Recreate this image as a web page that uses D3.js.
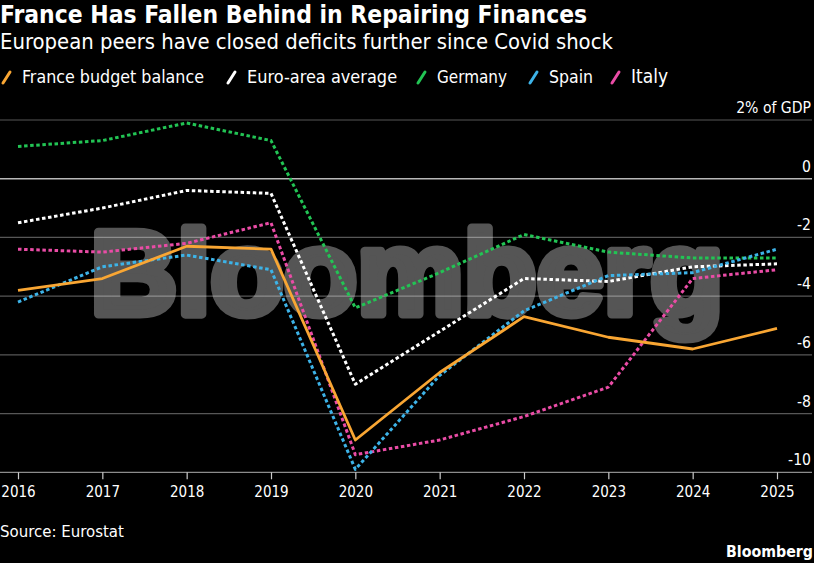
<!DOCTYPE html>
<html><head><meta charset="utf-8">
<script src="https://cdn.jsdelivr.net/npm/d3@7"></script>
<style>
html,body{margin:0;padding:0;background:#000;}
svg{display:block;}
</style></head>
<body>
<svg id="chart" width="814" height="563"></svg>
<script>
const years = [2016,2017,2018,2019,2020,2021,2022,2023,2024,2025];
const france  = [-3.8,-3.4,-2.3,-2.4,-8.9,-6.6,-4.7,-5.4,-5.8,-5.1];
const euroArea= [-1.5,-1.0,-0.4,-0.5,-7.0,-5.2,-3.4,-3.5,-3.0,-2.9];
const germany = [1.1,1.3,1.9,1.3,-4.4,-3.2,-1.9,-2.5,-2.7,-2.7];
const spain   = [-4.2,-3.0,-2.6,-3.1,-9.9,-6.7,-4.5,-3.3,-3.2,-2.4];
const italy   = [-2.4,-2.5,-2.2,-1.5,-9.4,-8.9,-8.1,-7.1,-3.4,-3.1];
const yTicks  = [2,0,-2,-4,-6,-8,-10];
const yTickLabels = ["2% of GDP","0","-2","-4","-6","-8","-10"];
const seriesNames = ["France budget balance","Euro-area average","Germany","Spain","Italy"];
const seriesColors = ["#f9a633","#ffffff","#22c454","#3db3e8","#ea4ca6"];

const seriesData = [france, euroArea, germany, spain, italy];
const FONT = "'DejaVu Sans Condensed','Liberation Sans Narrow','Roboto Condensed',sans-serif";

const svg = d3.select("#chart");
const x = d3.scaleLinear().domain([2016,2025]).range([18,777]);
const y = d3.scaleLinear().domain([2,-10]).range([120,472.3]);

function fitText(sel, target){
  const n = sel.node();
  let fs = parseFloat(sel.attr("font-size"));
  for(let i=0;i<4;i++){
    const w = n.getComputedTextLength();
    if(w>0){ fs = fs*target/w; sel.attr("font-size", fs); }
  }
}

// Title
const t = svg.append("text").attr("x",0).attr("y",23).attr("fill","#fff")
  .attr("font-family",FONT).attr("font-weight","bold").attr("font-size",22)
  .text("France Has Fallen Behind in Repairing Finances");
fitText(t,587);
const st = svg.append("text").attr("x",0).attr("y",49).attr("fill","#fff")
  .attr("font-family",FONT).attr("font-size",19)
  .text("European peers have closed deficits further since Covid shock");
fitText(st,613);

// Legend
const legendX = [3,228,418,530,612];
const legendTextW = [182,150,70,44,37];
seriesNames.forEach((name,i)=>{
  svg.append("line").attr("x1",legendX[i]).attr("y1",83).attr("x2",legendX[i]+7).attr("y2",72)
    .attr("stroke",seriesColors[i]).attr("stroke-width",3).attr("stroke-linecap","round");
  const lt = svg.append("text").attr("x",legendX[i]+19).attr("y",83).attr("fill","#fff")
    .attr("font-family",FONT).attr("font-size",16).text(name);
  fitText(lt, legendTextW[i]);
});

// Watermark (behind grid and lines)
svg.append("text").attr("x",90.5).attr("y",313.5).attr("fill","#555").attr("stroke","#555")
  .attr("stroke-width",9).attr("stroke-linejoin","round")
  .attr("font-family","'Liberation Sans',Arial,sans-serif").attr("font-weight","bold")
  .attr("font-size",119).attr("textLength",633).attr("lengthAdjust","spacingAndGlyphs")
  .text("Bloomberg");

// Gridlines
const grid = svg.append("g");
yTicks.forEach((v,i)=>{
  grid.append("line").attr("x1",0).attr("x2",812).attr("y1",y(v)).attr("y2",y(v))
    .attr("stroke","#fff")
    .attr("stroke-opacity", v===0 ? 0.72 : (v===-10 ? 0.55 : 0.34))
    .attr("stroke-width", v===0 ? 1.5 : 1.2);
  grid.append("text").attr("x",811).attr("y",y(v)-7).attr("text-anchor","end")
    .attr("fill","#fff").attr("font-family",FONT).attr("font-size",15.6)
    .text(yTickLabels[i]);
});

// X axis
const xAxis = d3.axisBottom(x).tickValues(years).tickFormat(d3.format("d")).tickSize(7).tickPadding(7);
const gx = svg.append("g").attr("transform",`translate(0,${y(-10)})`).call(xAxis);
gx.select(".domain").remove();
gx.selectAll(".tick line").attr("stroke","#ccc").attr("stroke-width",1.2);
gx.selectAll(".tick text").attr("fill","#fff").attr("font-family",FONT).attr("font-size",15);

// Lines (dotted first, France on top)
const line = d3.line().x((d,i)=>x(years[i])).y(d=>y(d));
const order = [2,1,4,3,0];
order.forEach(i=>{
  svg.append("path").datum(seriesData[i]).attr("d",line).attr("fill","none")
    .attr("stroke",seriesColors[i]).attr("stroke-width",i===0?2.8:3)
    .attr("stroke-dasharray", i===0 ? null : "3.5,2.6")
    .attr("stroke-linejoin","round");
});

// Footer
const src = svg.append("text").attr("x",0).attr("y",537).attr("fill","#fff")
  .attr("font-family",FONT).attr("font-size",15).text("Source: Eurostat");
fitText(src,124);
const bb = svg.append("text").attr("x",813).attr("y",557).attr("text-anchor","end").attr("fill","#fff")
  .attr("font-family",FONT).attr("font-weight","bold").attr("font-size",16).text("Bloomberg");
fitText(bb,87);
</script>
</body></html>
